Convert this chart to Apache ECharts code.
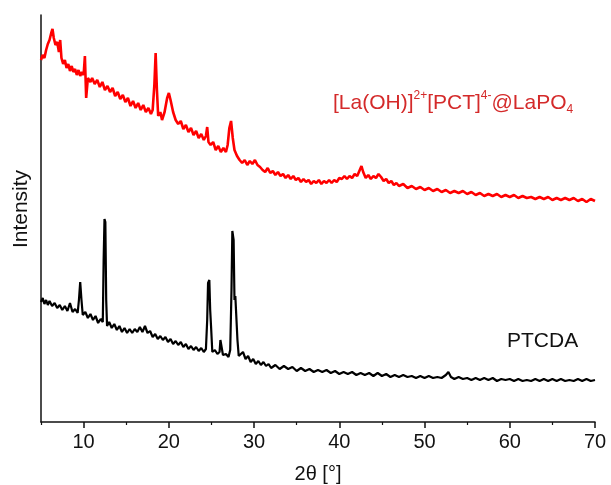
<!DOCTYPE html>
<html>
<head>
<meta charset="utf-8">
<script src="https://cdn.jsdelivr.net/npm/echarts@6/dist/echarts.min.js"></script>
<style>html,body{margin:0;padding:0;background:#fff}#c{width:611px;height:485px}</style>
</head>
<body>
<div id="c"></div>
<script>
// Tick values
var majorTicks = [10, 20, 30, 40, 50, 60, 70];
var minorTicks = [5, 15, 25, 35, 45, 55, 65];

// Red series: [La(OH)]2+[PCT]4-@LaPO4
var redAngle = [5.0,5.2,5.4,5.6,5.8,6.0,6.2,6.35,6.5,6.7,6.9,7.1,7.25,7.4,7.6,7.8,8.0,8.2,8.4,8.6,8.8,9.0,9.2,9.4,9.6,9.8,10.0,10.15,10.3,10.5,10.8,11.0,11.3,11.6,11.9,12.2,12.5,12.8,13.1,13.4,13.7,14.0,14.3,14.6,14.9,15.2,15.5,15.8,16.1,16.4,16.7,17.0,17.3,17.6,17.9,18.1,18.3,18.45,18.6,18.75,19.0,19.2,19.5,19.8,20.0,20.2,20.5,20.8,21.1,21.4,21.7,22.0,22.3,22.6,22.9,23.2,23.5,23.8,24.1,24.35,24.5,24.65,24.9,25.2,25.5,25.8,26.1,26.4,26.7,26.9,27.1,27.3,27.5,27.7,28.0,28.3,28.6,28.9,29.2,29.5,29.8,30.1,30.4,30.7,31.0,31.3,31.6,31.9,32.2,32.5,32.8,33.1,33.4,33.7,34.0,34.3,34.6,34.9,35.2,35.5,35.8,36.1,36.4,36.7,37.0,37.3,37.6,37.9,38.2,38.5,38.8,39.1,39.4,39.7,40.0,40.3,40.6,40.9,41.2,41.5,41.8,42.1,42.4,42.6,42.8,43.1,43.4,43.7,44.0,44.3,44.6,44.9,45.2,45.5,45.8,46.1,46.4,46.7,47.0,47.5,48.0,48.5,49.0,49.5,50.0,50.5,51.0,51.5,52.0,52.5,53.0,53.5,54.0,54.5,55.0,55.5,56.0,56.5,57.0,57.5,58.0,58.5,59.0,59.5,60.0,60.5,61.0,61.5,62.0,62.5,63.0,63.5,64.0,64.5,65.0,65.5,66.0,66.5,67.0,67.5,68.0,68.5,69.0,69.5,70.0];
var redIntensity = [362,367,364,372,378,382,389,393,384,377,380,370,382,364,358,362,354,358,351,356,350,353,347,352,346,350,347,366,324,344,340,344,338,342,335,340,332,336,330,334,326,330,323,327,320,324,316,321,314,319,312,317,310,314,308,312,337,369,332,306,310,302,310,324,329,322,310,302,298,301,293,297,290,294,287,291,284,288,282,286,295,280,277,280,272,276,270,274,270,277,294,301,284,272,266,262,259,262,257,261,258,262,257,255,252,250,254,249,251,247,250,246,248,244,247,243,246,242,244,240,243,240,242,238,241,239,242,238,241,239,242,239,242,240,244,243,246,243,246,244,248,246,252,256,250,244,247,243,246,244,248,245,241,243,239,241,237,239,236,238,234,236,233,235,232,234,231,233,230,232,229,231,229,231,228,230,227,229,226,228,226,228,225,227,225,227,224,226,224,225,223,225,223,225,222,224,222,224,222,224,221,223,220,223,221];

// Black series: PTCDA
var blackAngle = [5.0,5.2,5.4,5.6,5.8,6.0,6.3,6.6,6.9,7.2,7.5,7.8,8.1,8.4,8.7,9.0,9.3,9.45,9.6,9.75,9.9,10.2,10.5,10.8,11.1,11.4,11.7,12.0,12.25,12.35,12.45,12.55,12.65,12.75,13.0,13.3,13.6,13.9,14.2,14.5,14.8,15.1,15.4,15.7,16.0,16.3,16.6,16.9,17.2,17.5,17.8,18.1,18.4,18.7,19.0,19.3,19.6,19.9,20.2,20.5,20.8,21.1,21.4,21.7,22.0,22.3,22.6,22.9,23.2,23.5,23.8,24.1,24.35,24.5,24.6,24.75,24.85,24.95,25.1,25.4,25.7,25.95,26.05,26.2,26.35,26.7,27.0,27.2,27.35,27.45,27.6,27.7,27.8,27.95,28.05,28.2,28.4,28.7,29.0,29.3,29.6,29.9,30.2,30.5,30.8,31.1,31.4,31.7,32.0,32.5,33.0,33.5,34.0,34.5,35.0,35.5,36.0,36.5,37.0,37.5,38.0,38.5,39.0,39.5,40.0,40.5,41.0,41.5,42.0,42.5,43.0,43.5,44.0,44.5,45.0,45.5,46.0,46.5,47.0,47.5,48.0,48.5,49.0,49.5,50.0,50.5,51.0,51.5,52.0,52.5,52.8,53.1,53.5,54.0,54.5,55.0,55.5,56.0,56.5,57.0,57.5,58.0,58.5,59.0,59.5,60.0,60.5,61.0,61.5,62.0,62.5,63.0,63.5,64.0,64.5,65.0,65.5,66.0,66.5,67.0,67.5,68.0,68.5,69.0,69.5,70.0];
var blackIntensity = [120,124,118,122,117,121,116,119,114,117,112,116,111,119,110,113,109,122,140,122,107,110,104,108,102,106,99,103,100,162,203,200,122,96,100,94,98,92,96,90,94,89,93,89,93,90,95,90,96,89,91,85,88,83,86,82,85,80,83,78,81,77,80,75,78,73,76,72,75,71,74,70,73,102,139,142,112,96,70,72,68,70,82,80,67,68,65,72,132,191,182,122,126,124,82,66,64,70,63,66,60,63,58,61,57,60,56,58,54,57,53,56,53,55,51,54,51,53,50,52,50,52,49,51,48,50,48,50,47,49,47,49,46,49,46,48,45,47,45,47,45,46,44,46,44,46,44,45,44,47,50,45,43,45,43,44,42,44,42,44,42,44,41,43,42,43,41,43,41,42,41,43,41,43,41,43,41,43,41,42,41,43,41,43,41,42];

var seriesNames = ['[La(OH)]2+[PCT]4-@LaPO4', 'PTCDA'];

function zip(a, b) { return a.map(function (v, i) { return [v, b[i]]; }); }

var chart = echarts.init(document.getElementById('c'), null, {renderer: 'canvas'});
var FONT = '"Liberation Sans", Arial, sans-serif';
var RED_TXT = '#d42a2a';
chart.setOption({
  animation: false,
  backgroundColor: '#ffffff',
  grid: {left: 41, right: 16, top: 15, bottom: 63, containLabel: false, outerBoundsMode: 'none'},
  xAxis: [{
    type: 'value', min: 5, max: 70, interval: 5,
    name: '2θ [°]', nameLocation: 'middle', nameGap: 42,
    nameTextStyle: {fontFamily: FONT, fontSize: 20, color: '#111'},
    axisLine: {show: true, onZero: false, lineStyle: {color: '#111', width: 1.5}},
    axisTick: {show: true, customValues: majorTicks, length: 6, lineStyle: {color: '#111', width: 1.5}},
    axisLabel: {show: true, customValues: majorTicks, fontFamily: FONT, fontSize: 20, color: '#111', margin: 10},
    splitLine: {show: false}
  }, {
    type: 'value', min: 5, max: 70, interval: 5, position: 'bottom',
    axisLine: {show: false},
    axisTick: {show: true, customValues: minorTicks, length: 3, lineStyle: {color: '#111', width: 1.2}},
    axisLabel: {show: false},
    splitLine: {show: false}
  }],
  yAxis: {
    type: 'value', min: 0, max: 407,
    axisLine: {show: true, lineStyle: {color: '#111', width: 1.5}},
    axisTick: {show: false}, axisLabel: {show: false}, splitLine: {show: false}
  },
  series: [{
    name: seriesNames[0], type: 'line', xAxisIndex: 0, showSymbol: false,
    data: zip(redAngle, redIntensity),
    lineStyle: {color: '#ff0000', width: 2.6}
  }, {
    name: seriesNames[1], type: 'line', xAxisIndex: 0, showSymbol: false,
    data: zip(blackAngle, blackIntensity),
    lineStyle: {color: '#000000', width: 2.2}
  }],
  graphic: [{
    type: 'text', x: 21, y: 209, rotation: Math.PI / 2,
    style: {text: 'Intensity', fontFamily: FONT, fontSize: 21, fill: '#111', align: 'center', verticalAlign: 'middle'}
  }, {
    type: 'text', x: 333, y: 90,
    style: {
      text: '{b|[La(OH)]}{s|2+}{b|[PCT]}{s|4-}{b|@LaPO}{u|4}',
      rich: {
        b: {fontFamily: FONT, fontSize: 21, fill: RED_TXT, lineHeight: 26},
        s: {fontFamily: FONT, fontSize: 12, fill: RED_TXT, lineHeight: 22, verticalAlign: 'top'},
        u: {fontFamily: FONT, fontSize: 12, fill: RED_TXT, lineHeight: 14, verticalAlign: 'bottom'}
      }
    }
  }, {
    type: 'text', x: 507, y: 331,
    style: {text: 'PTCDA', fontFamily: FONT, fontSize: 21, fill: '#111'}
  }]
});
</script>
</body>
</html>
